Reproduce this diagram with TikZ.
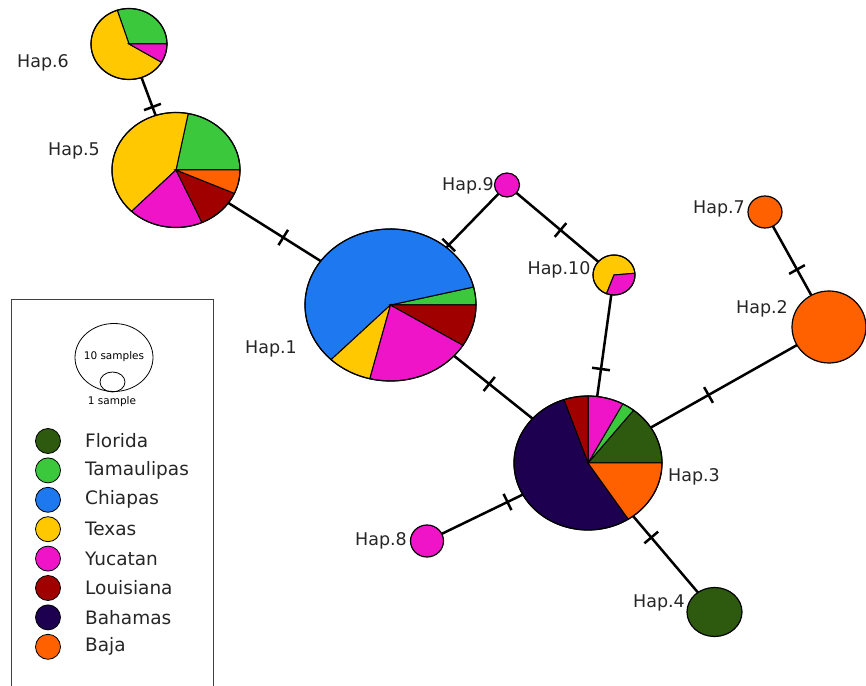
\documentclass[tikz,border=0pt]{standalone}
\usepackage{fontspec}
\setmainfont{DejaVu Sans}
\usepackage{tikz}
\usetikzlibrary{decorations.markings}

\definecolor{florida}{RGB}{45,90,15}
\definecolor{tamaulipas}{RGB}{60,200,60}
\definecolor{chiapas}{RGB}{30,120,240}
\definecolor{texas}{RGB}{255,200,0}
\definecolor{yucatan}{RGB}{240,20,200}
\definecolor{louisiana}{RGB}{160,0,0}
\definecolor{bahamas}{RGB}{30,0,80}
\definecolor{baja}{RGB}{255,96,0}

% center, x radius, y radius, start, end, colour
\newcommand{\hapslice}[6]{%
	\filldraw[fill=#6, draw=black, line width=1pt] (#1) -- ++(#4:#2 and #3)
		arc[start angle=#4, end angle=#5, x radius=#2, y radius=#3] -- cycle;}

\begin{document}
\begin{tikzpicture}[x=1pt, y=1pt,
		link/.style={line width=2.5pt, postaction={decorate, decoration={markings,
			mark=at position .5 with {\draw[line width=2.5pt] (0pt,-9pt) -- (0pt,9pt);}}}},
		rim/.style={draw=black, line width=1.2pt},
		hapname/.style={font=\fontsize{17.5}{20}\selectfont, inner sep=0pt, text=black!85}]
	\useasboundingbox (0,0) rectangle (866,685);

	\coordinate (hap1) at (390.5,380);
	\coordinate (hap2) at (829,358);
	\coordinate (hap3) at (588,222);
	\coordinate (hap4) at (714.5,73);
	\coordinate (hap5) at (176,515);
	\coordinate (hap6) at (129,641);
	\coordinate (hap7) at (765,473);
	\coordinate (hap8) at (427,144);
	\coordinate (hap9) at (507,500);
	\coordinate (hap10) at (614,410);

	% network
	\draw[link] (hap6) -- (hap5);
	\draw[link] (hap5) -- (hap1);
	\draw[link] (hap9) -- (hap1);
	\draw[link] (hap9) -- (hap10);
	\draw[link] (hap10) -- (hap3);
	\draw[link] (hap1) -- (hap3);
	\draw[link] (hap7) -- (hap2);
	\draw[link] (hap2) -- (hap3);
	\draw[link] (hap8) -- (hap3);
	\draw[link] (hap3) -- (hap4);

	% haplotype pies
	\hapslice{hap6}{38}{35.5}{0}{108}{tamaulipas}
	\hapslice{hap6}{38}{35.5}{108}{329}{texas}
	\hapslice{hap6}{38}{35.5}{329}{360}{yucatan}
	\draw[rim] (hap6) ellipse[x radius=38, y radius=35.5];

	\hapslice{hap5}{64}{57.5}{0}{79}{tamaulipas}
	\hapslice{hap5}{64}{57.5}{79}{226}{texas}
	\hapslice{hap5}{64}{57.5}{226}{294}{yucatan}
	\hapslice{hap5}{64}{57.5}{294}{336}{louisiana}
	\hapslice{hap5}{64}{57.5}{336}{360}{baja}
	\draw[rim] (hap5) ellipse[x radius=64, y radius=57.5];

	\hapslice{hap1}{85.5}{76}{0}{13.7}{tamaulipas}
	\hapslice{hap1}{85.5}{76}{13.7}{226}{chiapas}
	\hapslice{hap1}{85.5}{76}{226}{256}{texas}
	\hapslice{hap1}{85.5}{76}{256}{328}{yucatan}
	\hapslice{hap1}{85.5}{76}{328}{360}{louisiana}
	\draw[rim] (hap1) ellipse[x radius=85.5, y radius=76];

	\hapslice{hap3}{74}{67}{0}{52}{florida}
	\hapslice{hap3}{74}{67}{52}{62}{tamaulipas}
	\hapslice{hap3}{74}{67}{62}{90}{yucatan}
	\hapslice{hap3}{74}{67}{90}{109}{louisiana}
	\hapslice{hap3}{74}{67}{109}{303}{bahamas}
	\hapslice{hap3}{74}{67}{303}{360}{baja}
	\draw[rim] (hap3) ellipse[x radius=74, y radius=67];

	\hapslice{hap10}{21}{20}{5}{249}{texas}
	\hapslice{hap10}{21}{20}{249}{365}{yucatan}
	\draw[rim] (hap10) ellipse[x radius=21, y radius=20];

	\filldraw[rim, fill=yucatan] (hap9) ellipse[x radius=12.5, y radius=12];
	\filldraw[rim, fill=baja] (hap7) ellipse[x radius=17, y radius=16];
	\filldraw[rim, fill=baja] (hap2) ellipse[x radius=37, y radius=36];
	\filldraw[rim, fill=yucatan] (hap8) ellipse[x radius=16.5, y radius=16];
	\filldraw[rim, fill=florida] (hap4) ellipse[x radius=27.5, y radius=24.5];

	\begin{scope}[every node/.style={hapname}]
		\node (name1) at (271,336) {Hap.1};
		\node (name2) at (762,376) {Hap.2};
		\node (name3) at (694,208) {Hap.3};
		\node (name4) at (659,82) {Hap.4};
		\node (name5) at (74,534) {Hap.5};
		\node (name6) at (43,622) {Hap.6};
		\node (name7) at (719,476) {Hap.7};
		\node (name8) at (381,144) {Hap.8};
		\node (name9) at (468,499) {Hap.9};
		\node (name10) at (559,415) {Hap.10};
	\end{scope}

	% legend
	\draw[line width=1pt, black!75] (11,-5) rectangle (213,385);
	\draw[line width=0.8pt] (114,327.5) ellipse[x radius=39, y radius=34];
	\draw[line width=0.8pt] (112.5,303) ellipse[x radius=12.5, y radius=10];
	\node[font=\fontsize{10.5}{12}\selectfont, inner sep=0pt] (ten) at (114,328) {10 samples};
	\node[font=\fontsize{10.5}{12}\selectfont, inner sep=0pt] (one) at (112,283) {1 sample};

	\foreach \name/\col [count=\i from 0] in {Florida/florida, Tamaulipas/tamaulipas,
			Chiapas/chiapas, Texas/texas, Yucatan/yucatan, Louisiana/louisiana,
			Bahamas/bahamas, Baja/baja} {
		\node[circle, draw=black, line width=0.8pt, fill=\col, minimum size=25pt, inner sep=0pt]
			(dot\i) at (48,{244-29.4*\i}) {};
		\node[hapname, font=\fontsize{18.5}{21}\selectfont, anchor=west] (leg\i) at (85,{244-29.4*\i}) {\name};
	}
\end{tikzpicture}
\end{document}
